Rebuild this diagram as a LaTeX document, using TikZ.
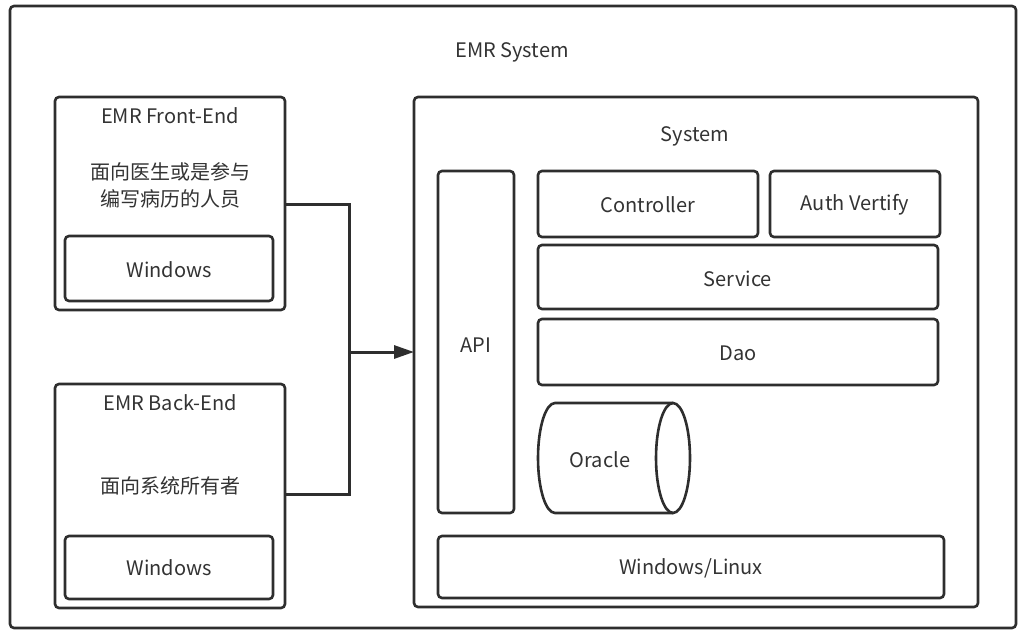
\documentclass[tikz,border=0pt]{standalone}
\usepackage{fontspec}
\setmainfont{Noto Sans CJK SC}
\usetikzlibrary{arrows.meta}
\definecolor{ink}{HTML}{2E2E2E}
\definecolor{txt}{HTML}{333333}
\begin{document}
\begin{tikzpicture}[x=1pt,y=-1pt,
  box/.style={draw=ink,line width=2.6pt,rounded corners=4pt},
  lbl/.style={text=txt,font=\fontsize{20}{27}\selectfont,inner sep=0pt,yshift=-0.5pt},
  conn/.style={draw=ink,line width=3pt}]
\useasboundingbox[fill=white] (0,0) rectangle (1024,634);
% outer frame
\draw[box] (10,6) rectangle (1016,628);
\node[lbl] (title) at (512,52) {EMR System};
% front-end
\draw[box] (55,97) rectangle (285,310);
\coordinate (fronteast) at (285,204);
\node[lbl] (ftitle) at (170,115) {EMR Front-End};
\node[lbl,align=center] (fdesc) at (170,185) {面向医生或是参与\\编写病历的人员};
\draw[box] (65,236) rectangle (273,301);
\node[lbl] (fwin) at (169,269) {Windows};
% back-end
\draw[box] (55,384) rectangle (285,608);
\coordinate (backeast) at (285,494);
\node[lbl] (btitle) at (170,402) {EMR Back-End};
\node[lbl] (bdesc) at (170,485) {面向系统所有者};
\draw[box] (65,536) rectangle (273,599);
\node[lbl] (bwin) at (169,567) {Windows};
% system
\draw[box] (414,97) rectangle (978,607);
\coordinate (syswest) at (414,352);
\node[lbl] (stitle) at (695,136) {System};
\draw[box] (438,171) rectangle (514,513);
\node[lbl] (api) at (476,345) {API};
\draw[box] (538,171) rectangle (758,237);
\node[lbl] (ctrl) at (648,204) {Controller};
\draw[box] (770,171) rectangle (940,237);
\node[lbl] (auth) at (855,204) {Auth Vertify};
\draw[box] (538,245) rectangle (938,309);
\node[lbl] (svc) at (738,278) {Service};
\draw[box] (538,319) rectangle (938,385);
\node[lbl] (dao) at (738,353) {Dao};
% cylinder
\draw[draw=ink,line width=2.6pt] (673,403) -- (555,403)
  arc[start angle=90,end angle=270,x radius=17pt,y radius=55pt] -- (673,513);
\draw[draw=ink,line width=2.6pt] (673,458) ellipse [x radius=17pt,y radius=55pt];
\node[lbl] (oracle) at (600,459) {Oracle};
\draw[box] (438,536) rectangle (944,598);
\node[lbl] (os) at (691,568) {Windows/Linux};
% connectors
\coordinate (j) at (349,352);
\draw[conn] (fronteast) -| (j);
\draw[conn] (backeast) -| (j);
\draw[conn,-{Triangle[length=20pt,width=13pt]}] (j) -- (syswest);
\end{tikzpicture}
\end{document}
